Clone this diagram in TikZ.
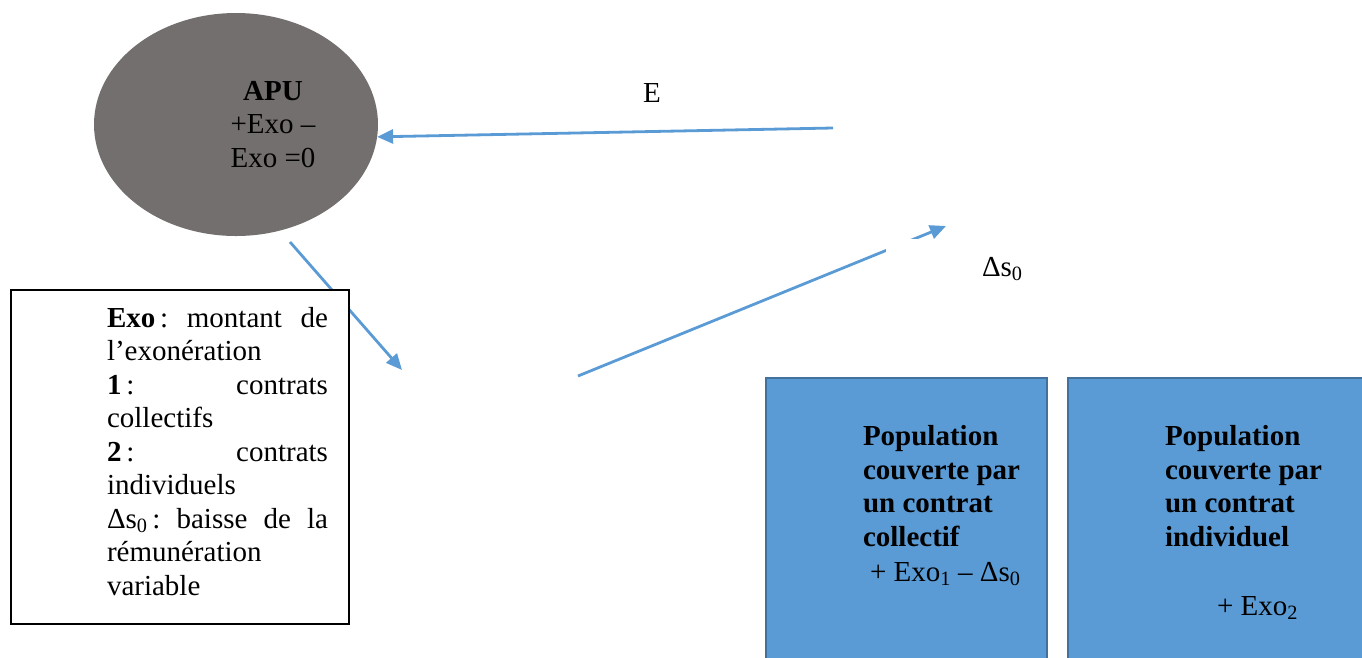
\documentclass[tikz,border=0pt]{standalone}
\usepackage{fontspec}
\setmainfont{Liberation Serif}
\usetikzlibrary{shapes.geometric,arrows.meta}
\definecolor{bluel}{HTML}{5B9BD5}
\definecolor{apugray}{HTML}{736F6E}
\definecolor{boxedge}{HTML}{41719C}
\tikzset{
  flow/.style={draw=bluel, line width=2.8pt, -{Triangle[length=16pt,width=14pt]}},
  txt/.style={inner sep=0pt, outer sep=0pt, font=\fontsize{29}{33.5}\selectfont},
  popbox/.style={draw=boxedge, fill=bluel, line width=2.5pt, inner sep=0pt, outer sep=0pt},
}
\begin{document}
\begin{tikzpicture}[x=1pt,y=1pt]
\useasboundingbox (0,0) rectangle (1362,-657);
\clip (0,0) rectangle (1362,-657);
% APU ellipse
\node[ellipse, fill=apugray, minimum width=284pt, minimum height=223pt, inner sep=0pt, outer sep=0pt] (apu) at (236,-124.5) {};
\node[txt, align=center, anchor=base] (aputext) at (273,-167) {\textbf{APU}\\+Exo –\\Exo =0};
% arrows
\coordinate (e0) at (833,-128);
\draw[flow] (e0) -- (apu.-5.4);
\node[txt, anchor=base west] (elabel) at (643,-102) {E};
\coordinate (d0) at (290,-242);
\coordinate (d1) at (402,-370);
\draw[flow] (d0) -- (d1);
\coordinate (s0) at (578,-376);
\coordinate (s1) at (946,-226);
\draw[flow] (s0) -- (s1);
% white text frame of the Delta s0 label
\fill[white] (886,-239) rectangle (1080,-330);
\node[txt, anchor=base west] (dlabel) at (982,-276) {Δs\textsubscript{0}};
% legend
\node[draw=black, fill=white, line width=1.5pt, minimum width=338pt, minimum height=334pt, anchor=north west, inner sep=0pt] (legend) at (10,-289) {};
\node[txt, text width=221pt, align=left, anchor=base west] (legendtext) at (107,-327) {%
\textbf{Exo}\,:\hfill montant\hfill de\\
l’exonération\\
\textbf{1}\,:\hfill contrats\\
collectifs\\
\textbf{2}\,:\hfill contrats\\
individuels\\
Δs\textsubscript{0}\,:\hfill baisse\hfill de\hfill la\\
rémunération\\
variable};
% population boxes
\node[popbox, minimum width=281pt, minimum height=330pt, anchor=north west] (coll) at (766,-378) {};
\node[popbox, minimum width=330pt, minimum height=330pt, anchor=north west] (indiv) at (1068,-378) {};
\node[txt, align=left, anchor=base west] (colltext) at (863,-546) {\textbf{Population}\\\textbf{couverte par}\\\textbf{un contrat}\\\textbf{collectif}};
\node[txt, anchor=base west] (collexo) at (870,-581) {+ Exo\textsubscript{1} – Δs\textsubscript{0}};
\node[txt, align=left, anchor=base west] (indivtext) at (1165,-546) {\textbf{Population}\\\textbf{couverte par}\\\textbf{un contrat}\\\textbf{individuel}};
\node[txt, anchor=base west] (indivexo) at (1217,-615) {+ Exo\textsubscript{2}};
\end{tikzpicture}
\end{document}
